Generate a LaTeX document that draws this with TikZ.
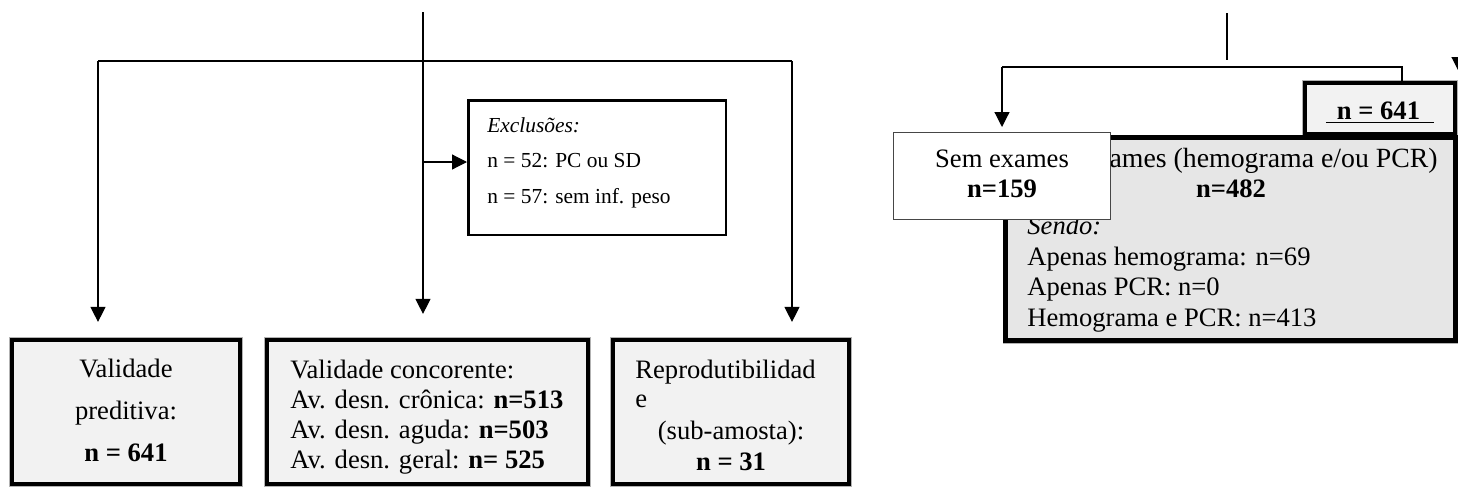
\documentclass[tikz,border=0pt]{standalone}
\usepackage{fontspec}
\setmainfont{Liberation Serif}
\usetikzlibrary{arrows.meta,positioning,calc}
\definecolor{framegray}{RGB}{242,242,242}
\definecolor{examgray}{RGB}{230,230,230}
\definecolor{edgegray}{RGB}{70,70,70}

\begin{document}
\begin{tikzpicture}[x=.5pt,y=-.5pt,
  every node/.style={inner sep=0pt,font=\fontsize{13.3}{15}\selectfont},
  thickbox/.style={draw,line width=2.1pt,fill=framegray,
    preaction={draw=gray!60,line width=3pt}},
  lline/.style={anchor=base west},
  cline/.style={anchor=base},
  arr/.style={-{Triangle[width=7.5pt,length=7.5pt]},line width=.6pt},
  conn/.style={line width=.6pt}]
\useasboundingbox (0,0) rectangle (1458,487);
\clip (0,0) rectangle (1458,487);

% left branch: the three analyses
\node[thickbox,minimum width=114pt,minimum height=72pt] (predbox) at (126,412) {};
\node[thickbox,minimum width=160.5pt,minimum height=72pt] (concbox) at (427.5,412) {};
\node[thickbox,minimum width=118pt,minimum height=72pt] (reprobox) at (731,412) {};
\node[draw,line width=1.25pt,fill=white,minimum width=128.75pt,minimum height=67.25pt] (exclbox) at (597,167.5) {};

\foreach \t [count=\i] in {Validade,preditiva:,\textbf{n = 641}}
  \node[cline] (pred\i) at (126,335+42*\i) {\t};
\foreach \t [count=\i] in {Validade concorente:,Av. desn. crônica: \textbf{n=513},
    Av. desn. aguda: \textbf{n=503},Av. desn. geral: \textbf{n= 525}}
  \node[lline] (conc\i) at (290,348+30*\i) {\t};
\node[lline] (repro1) at (635,378) {Reprodutibilidad};
\node[lline] (repro2) at (635,407) {e};
\node[cline] (repro3) at (731,439) {(sub-amosta):};
\node[cline] (repro4) at (731,470) {\textbf{n = 31}};
\foreach \t [count=\i] in {\textit{Exclusões:},n = 52: PC ou SD,n = 57: sem inf. peso}
  \node[lline,font=\fontsize{10.7}{13}\selectfont] (excl\i) at (487,96.5+35.5*\i) {\t};

\coordinate (inL) at (423,12);
\coordinate (hubL) at (423,61);
\coordinate (wL) at (98,61);
\coordinate (eL) at (792,61);
\coordinate (exclin) at (423,162);
\draw[conn] (inL) -- (hubL);
\draw[conn] (wL) -- (eL);
\draw[arr,shorten >=8pt] (wL) -- (wL |- predbox.north);
\draw[arr,shorten >=12pt] (hubL) -- (hubL |- concbox.north);
\draw[arr,shorten >=8pt] (eL) -- (eL |- reprobox.north);
\draw[arr] (exclin) -- (exclin -| exclbox.west);

% right branch: exams
\node[thickbox,line width=2.2pt,minimum width=75pt,minimum height=25.5pt] (totbox) at (1380,108.5) {};
\node[cline] (tottxt) at (1380,119) {\underline{\textbf{\hspace{5.5pt}n = 641\hspace{7pt}}}};
\node[thickbox,line width=2.4pt,fill=examgray,minimum width=225pt,minimum height=101.5pt] (exambox) at (1230.5,239) {};
\node[cline,font=\fontsize{13.9}{15}\selectfont] (exam1) at (1230,167) {Com exames (hemograma e/ou PCR)};
\node[cline] (exam2) at (1231,197) {\textbf{n=482}};
\foreach \t [count=\i] in {\textit{Sendo:},Apenas hemograma: n=69,Apenas PCR: n=0,Hemograma e PCR: n=413}
  \node[lline] (sub\i) at (1027,204+30.5*\i) {\t};
\node[draw=edgegray,line width=.5pt,fill=white,minimum width=108.5pt,minimum height=43.5pt] (nobox) at (1002,176) {};
\node[cline] (no1) at (1002,167) {Sem exames};
\node[cline] (no2) at (1002,197) {\textbf{n=159}};

\coordinate (inR) at (1227,13);
\coordinate (inRend) at (1227,60);
\coordinate (wR) at (1002,67);
\coordinate (eR) at (1402,67);
\coordinate (edgeR) at (1459,-5);
\coordinate (edgeRtip) at (1459,72);
\draw[conn] (inR) -- (inRend);
\draw[conn] (wR) -- (eR) -- (eR |- totbox.north);
\draw[arr,shorten >=2.5pt] (wR) -- (wR |- nobox.north);
\draw[arr] (edgeR) -- (edgeRtip);
\end{tikzpicture}
\end{document}
